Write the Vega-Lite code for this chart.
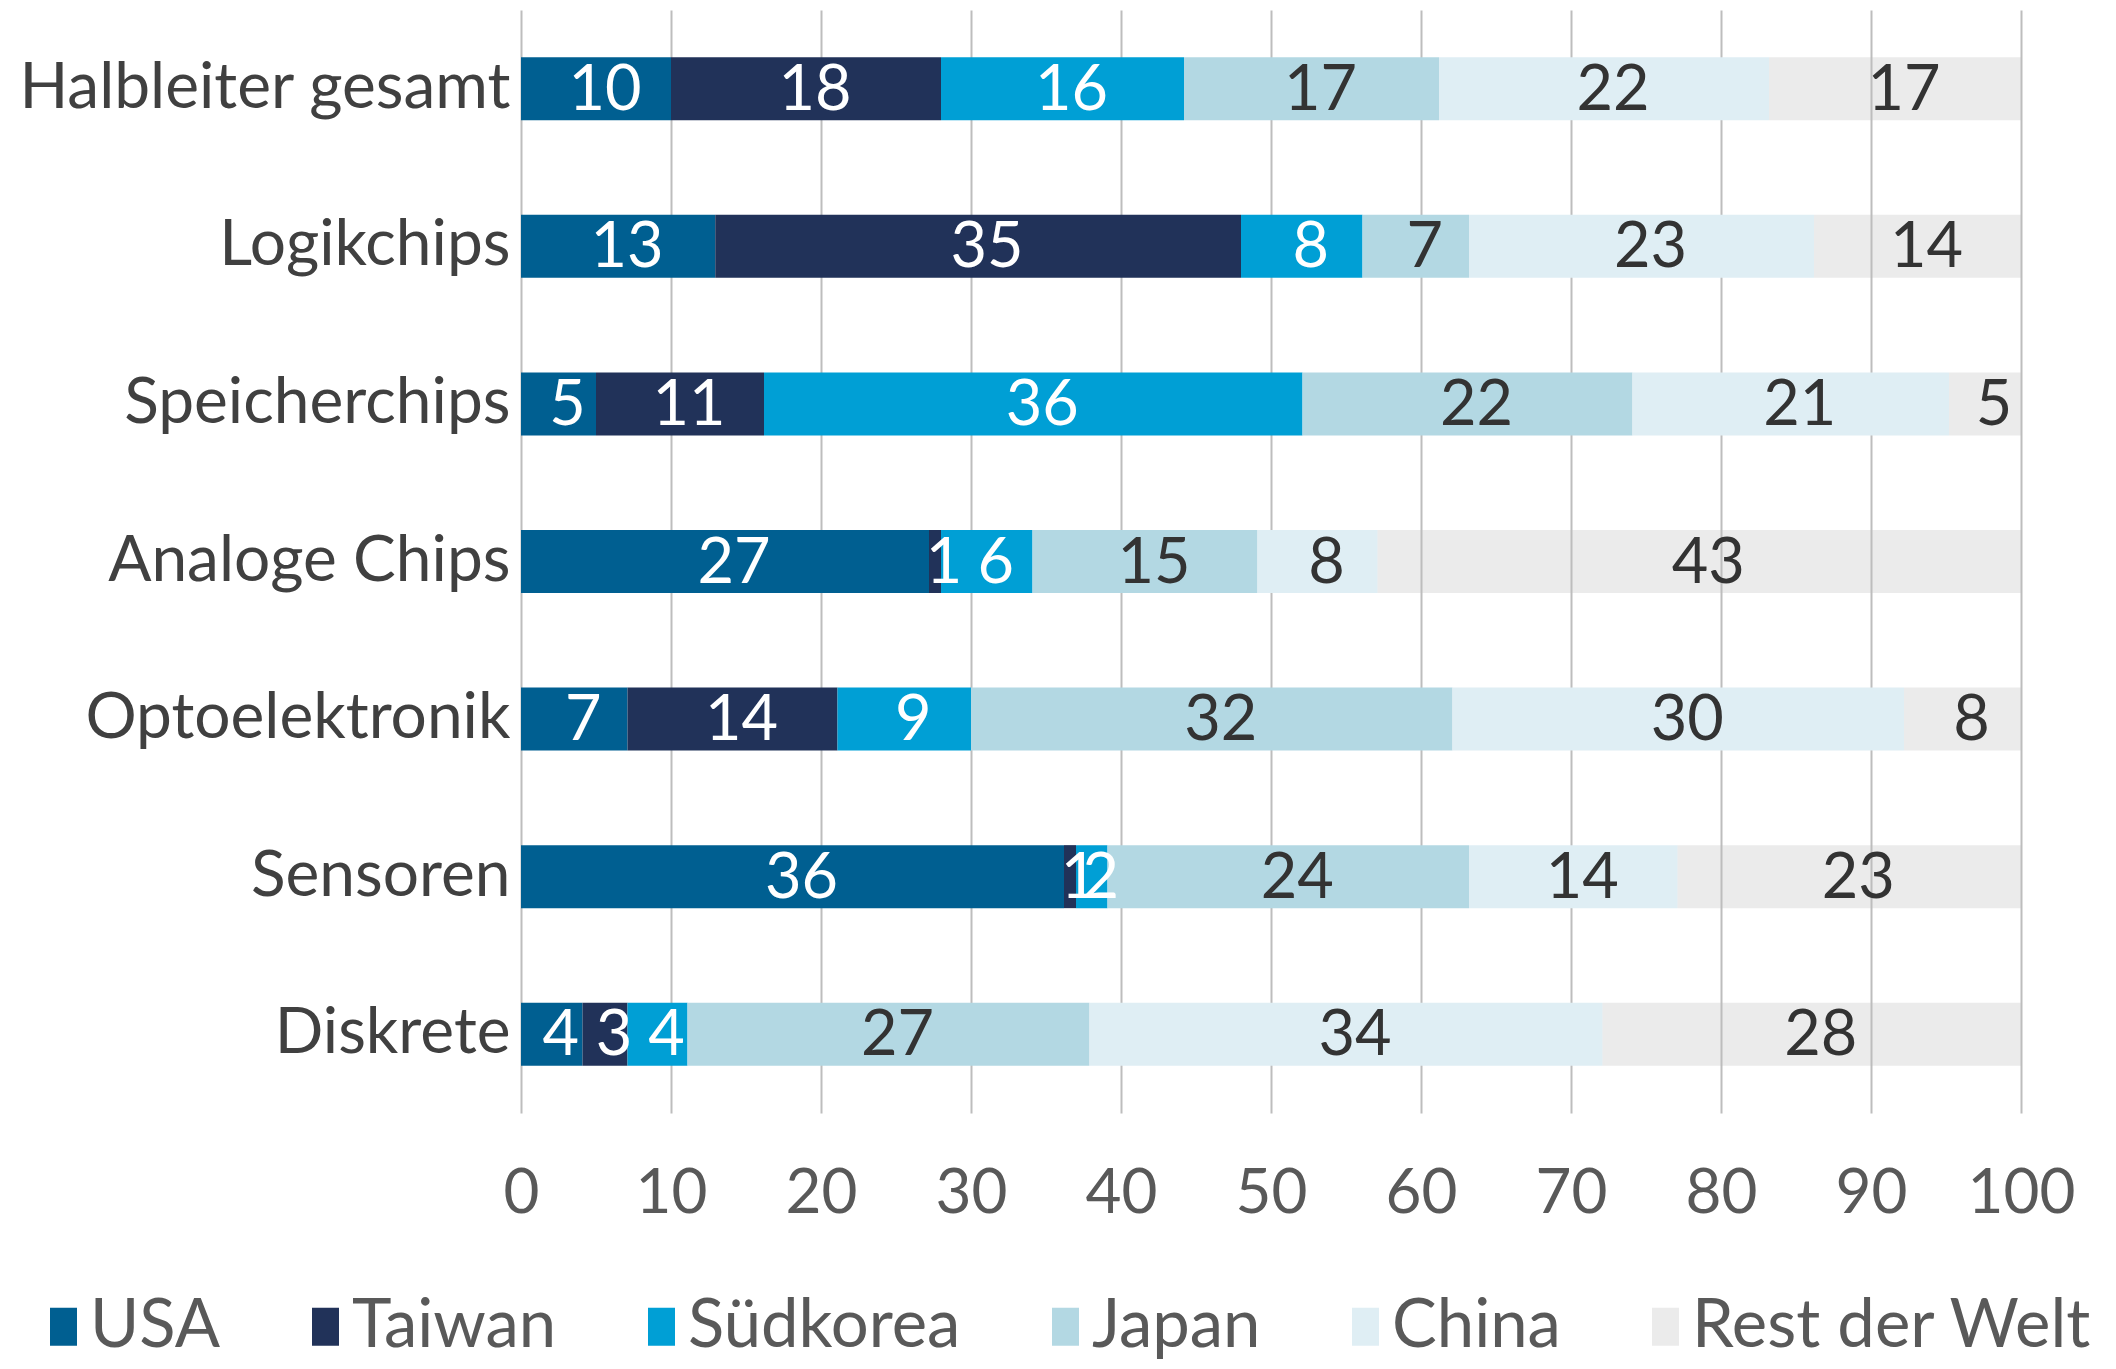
{
  "$schema": "https://vega.github.io/schema/vega-lite/v6.json",
  "width": 1500,
  "height": 1103,
  "autosize": {"type": "none"},
  "padding": {"left": 521, "top": 10, "right": 95, "bottom": 256},
  "background": "white",
  "config": {
    "view": {"stroke": null},
    "font": "Lato"
  },
  "data": {
    "values": [
      {"kategorie": "Halbleiter gesamt", "land": "USA", "idx": 1, "wert": 10.0},
      {"kategorie": "Halbleiter gesamt", "land": "Taiwan", "idx": 2, "wert": 18.0},
      {"kategorie": "Halbleiter gesamt", "land": "Südkorea", "idx": 3, "wert": 16.2},
      {"kategorie": "Halbleiter gesamt", "land": "Japan", "idx": 4, "wert": 17.0},
      {"kategorie": "Halbleiter gesamt", "land": "China", "idx": 5, "wert": 22.0},
      {"kategorie": "Halbleiter gesamt", "land": "Rest der Welt", "idx": 6, "wert": 16.8},
      {"kategorie": "Logikchips", "land": "USA", "idx": 1, "wert": 12.95},
      {"kategorie": "Logikchips", "land": "Taiwan", "idx": 2, "wert": 35.05},
      {"kategorie": "Logikchips", "land": "Südkorea", "idx": 3, "wert": 8.1},
      {"kategorie": "Logikchips", "land": "Japan", "idx": 4, "wert": 7.1},
      {"kategorie": "Logikchips", "land": "China", "idx": 5, "wert": 23.0},
      {"kategorie": "Logikchips", "land": "Rest der Welt", "idx": 6, "wert": 13.8},
      {"kategorie": "Speicherchips", "land": "USA", "idx": 1, "wert": 5.0},
      {"kategorie": "Speicherchips", "land": "Taiwan", "idx": 2, "wert": 11.2},
      {"kategorie": "Speicherchips", "land": "Südkorea", "idx": 3, "wert": 35.9},
      {"kategorie": "Speicherchips", "land": "Japan", "idx": 4, "wert": 22.0},
      {"kategorie": "Speicherchips", "land": "China", "idx": 5, "wert": 21.1},
      {"kategorie": "Speicherchips", "land": "Rest der Welt", "idx": 6, "wert": 4.8},
      {"kategorie": "Analoge Chips", "land": "USA", "idx": 1, "wert": 27.2},
      {"kategorie": "Analoge Chips", "land": "Taiwan", "idx": 2, "wert": 0.8},
      {"kategorie": "Analoge Chips", "land": "Südkorea", "idx": 3, "wert": 6.1},
      {"kategorie": "Analoge Chips", "land": "Japan", "idx": 4, "wert": 15.0},
      {"kategorie": "Analoge Chips", "land": "China", "idx": 5, "wert": 8.0},
      {"kategorie": "Analoge Chips", "land": "Rest der Welt", "idx": 6, "wert": 42.9},
      {"kategorie": "Optoelektronik", "land": "USA", "idx": 1, "wert": 7.1},
      {"kategorie": "Optoelektronik", "land": "Taiwan", "idx": 2, "wert": 14.0},
      {"kategorie": "Optoelektronik", "land": "Südkorea", "idx": 3, "wert": 8.9},
      {"kategorie": "Optoelektronik", "land": "Japan", "idx": 4, "wert": 32.1},
      {"kategorie": "Optoelektronik", "land": "China", "idx": 5, "wert": 30.1},
      {"kategorie": "Optoelektronik", "land": "Rest der Welt", "idx": 6, "wert": 7.8},
      {"kategorie": "Sensoren", "land": "USA", "idx": 1, "wert": 36.2},
      {"kategorie": "Sensoren", "land": "Taiwan", "idx": 2, "wert": 0.8},
      {"kategorie": "Sensoren", "land": "Südkorea", "idx": 3, "wert": 2.1},
      {"kategorie": "Sensoren", "land": "Japan", "idx": 4, "wert": 24.1},
      {"kategorie": "Sensoren", "land": "China", "idx": 5, "wert": 13.9},
      {"kategorie": "Sensoren", "land": "Rest der Welt", "idx": 6, "wert": 22.9},
      {"kategorie": "Diskrete", "land": "USA", "idx": 1, "wert": 4.1},
      {"kategorie": "Diskrete", "land": "Taiwan", "idx": 2, "wert": 3.0},
      {"kategorie": "Diskrete", "land": "Südkorea", "idx": 3, "wert": 4.0},
      {"kategorie": "Diskrete", "land": "Japan", "idx": 4, "wert": 26.8},
      {"kategorie": "Diskrete", "land": "China", "idx": 5, "wert": 34.2},
      {"kategorie": "Diskrete", "land": "Rest der Welt", "idx": 6, "wert": 27.9}
    ]
  },
  "encoding": {
    "y": {
      "field": "kategorie",
      "type": "nominal",
      "sort": ["Halbleiter gesamt", "Logikchips", "Speicherchips", "Analoge Chips", "Optoelektronik", "Sensoren", "Diskrete"],
      "scale": {"paddingInner": 0.6, "paddingOuter": 0.3},
      "axis": {
        "title": null,
        "domain": false,
        "ticks": false,
        "grid": false,
        "labelFontSize": 64,
        "labelColor": "#404040",
        "labelPadding": 11,
        "labelLimit": 1000
      }
    }
  },
  "layer": [
    {
      "mark": {"type": "bar"},
      "encoding": {
        "x": {
          "field": "wert",
          "type": "quantitative",
          "stack": "zero",
          "scale": {"domain": [0, 100], "nice": false},
          "axis": {
            "title": null,
            "values": [0, 10, 20, 30, 40, 50, 60, 70, 80, 90, 100],
            "domain": false,
            "ticks": false,
            "grid": true,
            "gridColor": "#bdbdbd",
            "gridWidth": 2,
            "labelFontSize": 62,
            "labelColor": "#595959",
            "labelPadding": 50,
            "labelFlush": false
          }
        },
        "order": {"field": "idx", "type": "quantitative"},
        "color": {
          "field": "land",
          "type": "nominal",
          "sort": ["USA", "Taiwan", "Südkorea", "Japan", "China", "Rest der Welt"],
          "scale": {
            "domain": ["USA", "Taiwan", "Südkorea", "Japan", "China", "Rest der Welt"],
            "range": ["#005f91", "#213259", "#009fd5", "#b3d8e3", "#dfeef4", "rgba(190,190,190,0.3)"]
          },
          "legend": {
            "title": null,
            "orient": "none",
            "direction": "horizontal",
            "legendX": -491,
            "legendY": 1283,
            "padding": 0,
            "offset": 0,
            "symbolType": "M-1,-1.4H1V1.4H-1Z",
            "symbolSize": 729,
            "symbolStrokeWidth": 0,
            "symbolOpacity": 1,
            "labelFontSize": 67,
            "labelColor": "#595959",
            "labelOffset": -7,
            "columnPadding": 71,
            "labelLimit": 1000
          }
        }
      }
    },
    {
      "mark": {"type": "text", "fontSize": 63, "baseline": "middle", "align": "center", "dy": 2, "dx": 9},
      "encoding": {
        "x": {"field": "wert", "type": "quantitative", "stack": "zero", "bandPosition": 0.5},
        "order": {"field": "idx", "type": "quantitative"},
        "text": {"field": "wert", "type": "quantitative", "format": ".0f"},
        "color": {
          "condition": {"test": "datum.idx <= 3", "value": "#ffffff"},
          "value": "#333333"
        }
      }
    }
  ]
}
